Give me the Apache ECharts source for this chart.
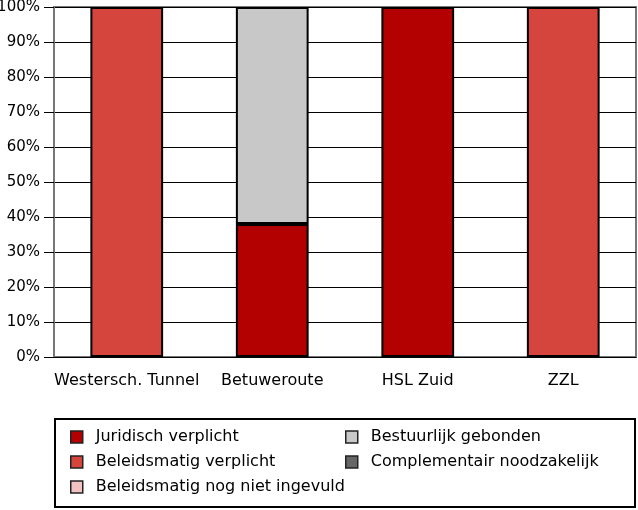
<!DOCTYPE html>
<html>
<head>
<meta charset="utf-8">
<script src="https://cdn.jsdelivr.net/npm/echarts@6/dist/echarts.min.js"></script>
<style>html,body{margin:0;padding:0;background:#fff}#c{width:638px;height:510px}</style>
</head>
<body>
<div id="c"></div>
<script>
var categories = ['Westersch. Tunnel', 'Betuweroute', 'HSL Zuid', 'ZZL'];
var juridischVerplicht = [null, 38, 100, null];
var beleidsmatigVerplicht = [100, null, null, 100];
var beleidsmatigNogNiet = [null, null, null, null];
var bestuurlijkGebonden = [null, 62, null, null];
var complementairNoodzakelijk = [null, null, null, null];
var yTicks = [0, 10, 20, 30, 40, 50, 60, 70, 80, 90, 100];

var FONT = 'DejaVu Sans';
var chart = echarts.init(document.getElementById('c'), null, {renderer: 'canvas'});
function s(name, data, color) {
  return {
    name: name, type: 'bar', stack: 'a', data: data, barWidth: '50%',
    itemStyle: {color: color, borderColor: '#000', borderWidth: 2},
    emphasis: {disabled: true}
  };
}
var legendCommon = {
  orient: 'vertical', itemWidth: 12, itemHeight: 12, itemGap: 9,
  icon: 'rect',
  itemStyle: {borderColor: '#222', borderWidth: 1.5},
  textStyle: {fontFamily: FONT, fontSize: 16, color: '#000', padding: [0, 0, 0, 8]},
  selectedMode: false
};
chart.setOption({
  animation: false,
  grid: {left: 54, right: 2, top: 7, bottom: 153, show: true, borderColor: '#777', borderWidth: 2,
    outerBoundsMode: 'none', containLabel: false},
  xAxis: {
    type: 'category', data: categories,
    axisLine: {lineStyle: {color: '#000', width: 1}},
    axisTick: {length: 10, lineStyle: {color: '#000'}},
    axisLabel: {fontFamily: FONT, fontSize: 16, color: '#000', margin: 16, interval: 0}
  },
  yAxis: {
    type: 'value', min: 0, max: 100, interval: 10,
    axisLine: {show: true, lineStyle: {color: '#777', width: 2}},
    axisTick: {show: true, length: 10, lineStyle: {color: '#000'}},
    splitLine: {lineStyle: {color: '#000', width: 1}},
    axisLabel: {fontFamily: FONT, fontSize: 15, color: '#000', margin: 14,
      formatter: function (v) { return yTicks.indexOf(v) >= 0 ? v + '%' : ''; }}
  },
  legend: [
    Object.assign({left: 65, top: 424, data: ['Juridisch verplicht', 'Beleidsmatig verplicht', 'Beleidsmatig nog niet ingevuld']}, legendCommon),
    Object.assign({left: 340, top: 424, data: ['Bestuurlijk gebonden', 'Complementair noodzakelijk']}, legendCommon)
  ],
  graphic: [{
    type: 'rect', shape: {x: 55, y: 419, width: 580, height: 88},
    style: {fill: 'none', stroke: '#000', lineWidth: 2}, silent: true
  }],
  series: [
    s('Juridisch verplicht', juridischVerplicht, '#B30000'),
    s('Beleidsmatig verplicht', beleidsmatigVerplicht, '#D5453E'),
    s('Beleidsmatig nog niet ingevuld', beleidsmatigNogNiet, '#F2C2C0'),
    s('Bestuurlijk gebonden', bestuurlijkGebonden, '#C8C8C8'),
    s('Complementair noodzakelijk', complementairNoodzakelijk, '#666666')
  ]
});
</script>
</body>
</html>
